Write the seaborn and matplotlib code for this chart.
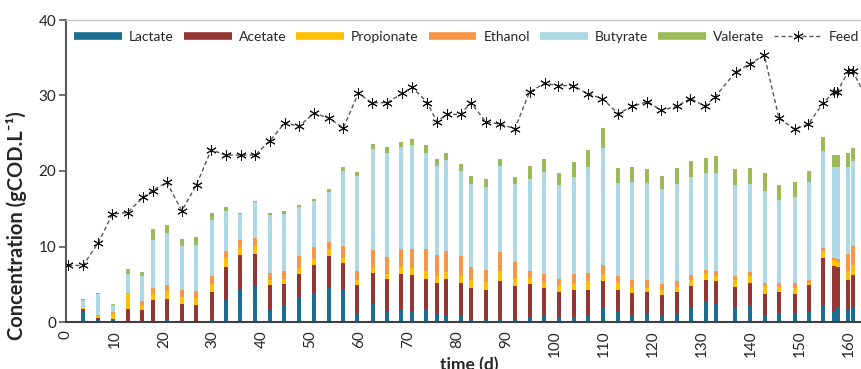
import numpy as np
import pandas as pd
import matplotlib
matplotlib.use("Agg")
import matplotlib.pyplot as plt
from matplotlib.lines import Line2D
import seaborn as sns

# ---------------- data ----------------
days = [3.5, 6.6, 9.7, 12.7, 15.6, 17.7, 20.6, 23.7, 26.6, 29.8,
        32.7, 35.6, 38.7, 41.7, 44.6, 47.7, 50.7, 53.7, 56.7, 59.6,
        62.7, 65.7, 68.6, 70.8, 73.6, 75.8, 77.7, 80.7, 82.8, 85.8,
        88.8, 91.8, 94.8, 97.7, 100.8, 103.9, 106.8, 109.9, 112.8, 115.8,
        118.9, 121.8, 124.9, 127.8, 130.8, 132.9, 136.8, 139.9, 143.0, 145.9,
        149.0, 152.0, 154.9, 157.0, 157.8, 159.9, 161.0]

lactate = [1.3, 0.3, 0.2, 0.0, 0.0, 0.1, 0.45, 0.0, 0.0, 0.45,
           2.95, 4.27, 4.75, 1.55, 2.2, 3.2, 3.9, 4.5, 4.27, 1.1,
           2.35, 1.3, 1.7, 1.45, 1.7, 1.1, 0.97, 0.75, 0.3, 0.3,
           0.4, 0.4, 0.5, 0.97, 0.5, 0.65, 0.97, 1.9, 1.4, 0.75,
           1.1, 0.97, 1.2, 1.9, 2.73, 2.5, 1.85, 2.2, 0.97, 1.2,
           1.1, 1.5, 2.1, 1.5, 2.0, 1.65, 2.0]
acetate = [0.47, 0.25, 0.25, 1.68, 1.55, 2.77, 2.65, 2.35, 2.2, 3.55,
           4.32, 4.63, 4.25, 3.3, 2.8, 3.2, 3.6, 4.2, 3.58, 3.75,
           4.15, 4.35, 4.7, 4.8, 4.0, 4.1, 4.68, 4.45, 4.2, 3.9,
           5.0, 4.35, 4.5, 3.53, 3.5, 3.55, 3.33, 3.5, 2.9, 3.1,
           2.9, 2.63, 2.8, 2.85, 2.87, 2.9, 2.75, 2.95, 2.78, 2.8,
           2.6, 3.35, 6.4, 5.9, 5.27, 3.85, 4.25]
propionate = [0.08, 0.2, 0.65, 2.07, 0.75, 0.88, 0.95, 0.95, 1.0, 1.0,
              1.18, 1.0, 1.1, 0.65, 0.7, 0.7, 0.9, 1.0, 0.65, 0.65,
              0.65, 0.75, 0.85, 0.9, 1.0, 0.95, 0.95, 0.9, 1.0, 1.1,
              1.3, 1.1, 0.85, 0.7, 0.85, 1.0, 1.1, 0.85, 0.85, 0.85,
              0.55, 0.6, 0.6, 0.75, 0.7, 0.75, 0.9, 1.0, 1.0, 0.65,
              0.75, 0.25, 0.9, 0.75, 0.73, 1.25, 1.25]
ethanol = [0.05, 0.15, 0.2, 0.15, 0.43, 0.75, 0.8, 0.9, 0.85, 1.05,
           0.95, 0.9, 1.0, 1.0, 1.1, 1.6, 1.5, 0.95, 1.55, 1.25,
           2.4, 2.2, 2.45, 2.55, 3.0, 2.75, 2.8, 2.6, 1.77, 1.65,
           2.55, 2.05, 0.9, 1.2, 0.85, 1.2, 1.1, 1.25, 0.9, 0.9,
           0.95, 0.85, 0.8, 0.75, 0.65, 0.65, 0.6, 0.45, 0.45, 0.55,
           0.65, 0.5, 0.4, 0.35, 0.4, 2.25, 2.55]
butyrate = [0.97, 2.85, 0.9, 2.5, 3.31, 6.3, 6.9, 5.9, 6.2, 7.5,
            5.35, 3.5, 4.8, 7.7, 7.5, 6.5, 6.1, 6.6, 9.9, 12.65,
            13.35, 13.85, 13.5, 13.8, 12.75, 11.8, 12.05, 11.25, 11.03, 10.9,
            11.35, 10.4, 12.25, 13.5, 12.45, 12.85, 14.0, 15.5, 12.35, 12.9,
            12.9, 12.55, 12.9, 12.9, 12.8, 13.0, 12.05, 11.7, 12.1, 11.0,
            11.5, 12.9, 12.9, 12.0, 12.1, 11.55, 11.25]
valerate = [0.13, 0.1, 0.15, 0.6, 0.56, 1.5, 1.05, 0.9, 0.95, 0.9,
            0.45, 0.1, 0.1, 0.2, 0.45, 0.35, 0.3, 0.35, 0.55, 0.5,
            0.65, 0.75, 0.7, 0.8, 1.05, 0.95, 1.0, 0.95, 1.1, 1.1,
            1.0, 0.85, 1.6, 1.7, 1.65, 1.9, 2.3, 2.75, 1.95, 2.0,
            1.85, 1.8, 2.1, 2.15, 1.95, 2.2, 2.1, 2.1, 2.4, 1.9,
            1.9, 1.45, 1.75, 1.6, 1.6, 1.8, 1.7]

feed_days = [0.5, 3.5, 6.6, 9.5, 12.6, 15.7, 17.7, 20.6, 23.7, 26.7,
             29.7, 32.7, 35.8, 38.7, 41.7, 44.8, 47.6, 50.7, 53.8, 56.7,
             59.8, 62.5, 65.7, 68.8, 70.8, 73.9, 75.8, 77.9, 80.7, 82.8,
             85.8, 88.8, 91.8, 94.8, 97.9, 100.7, 103.7, 106.8, 109.7, 112.9,
             115.8, 118.9, 121.7, 124.9, 127.7, 130.6, 132.7, 137.0, 139.9, 142.8,
             145.8, 149.0, 151.8, 154.9, 157.0, 157.6, 160.0, 160.9, 163.5]
feed = [7.5, 7.5, 10.5, 14.3, 14.5, 16.5, 17.4, 18.5, 14.75, 18.2,
        22.8, 22.1, 22.1, 22.1, 24.0, 26.4, 25.9, 27.65, 27.0, 25.7,
        30.3, 29.05, 29.05, 30.3, 31.1, 29.05, 26.55, 27.5, 27.5, 29.05,
        26.55, 26.2, 25.6, 30.5, 31.6, 31.3, 31.3, 30.2, 29.6, 27.6,
        28.55, 29.2, 28.05, 28.55, 29.6, 28.6, 29.8, 33.15, 34.2, 35.35,
        27.0, 25.55, 26.2, 29.05, 30.4, 30.4, 33.2, 33.2, 29.9]

series_names = ["Lactate", "Acetate", "Propionate", "Ethanol", "Butyrate", "Valerate"]
series_colors = ["#1B6E92", "#943634", "#FFC000", "#F79646", "#ADD8E6", "#9BBB59"]
x_ticks = list(range(0, 161, 10))
y_ticks = [0, 10, 20, 30, 40]

# ---------------- figure ----------------
sns.set_theme(style="white")
plt.rcParams["font.family"] = ["Lato", "DejaVu Sans"]
text_col = "#262626"

W, H = 861, 369
fig = plt.figure(figsize=(W / 100, H / 100), dpi=100)
x0, x1 = 0, 165
ppd = 4.89
ax = fig.add_axes([66 / W, 47 / H, (x1 - x0) * ppd / W, 302 / H])

df = pd.DataFrame({"day": days, "Lactate": lactate, "Acetate": acetate,
                   "Propionate": propionate, "Ethanol": ethanol,
                   "Butyrate": butyrate, "Valerate": valerate})
cum = df[series_names].cumsum(axis=1)

min_gap = np.min(np.diff(np.sort(np.unique(days))))
bar_w = 0.82 / min_gap

for name, col in reversed(list(zip(series_names, series_colors))):
    sns.barplot(x=df["day"], y=cum[name], native_scale=True, color=col,
                saturation=1, width=bar_w, errorbar=None, linewidth=0,
                ax=ax)

feed_style = dict(color="#595959", linewidth=1.0, marker=(6, 2, 0), markersize=7.5,
                  markeredgecolor="#111111", markerfacecolor="#111111",
                  markeredgewidth=0.7)
sns.lineplot(x=feed_days, y=feed, ax=ax, dashes=False, linestyle=(0, (3, 2)),
             zorder=5, **feed_style)

ax.set_xlim(x0, x1)
ax.set_ylim(0, 40)
ax.set_xticks(x_ticks)
ax.set_xticklabels([str(t) for t in x_ticks], rotation=90, fontsize=11, color=text_col)
ax.set_yticks(y_ticks)
ax.set_yticklabels([str(t) for t in y_ticks], fontsize=11, color=text_col)
ax.tick_params(axis="x", direction="inout", length=8, width=1.2, color="#404040", pad=2)
ax.tick_params(axis="y", direction="out", length=5, width=1.2, color="#595959", left=True, pad=2)

for s in ["left", "bottom"]:
    ax.spines[s].set_color("#595959")
    ax.spines[s].set_linewidth(1.5)
ax.spines["bottom"].set_color("#404040")
ax.spines["top"].set_color("#C8C8C8")
ax.spines["top"].set_linewidth(1.0)
ax.spines["right"].set_visible(False)

ax.set_xlabel("time (d)", fontsize=12.5, fontweight="bold", color=text_col, labelpad=0)
ax.set_ylabel("Concentration (gCOD.L\u207b\u00b9)", fontsize=14.5, fontweight="bold",
              color=text_col)
ax.yaxis.set_label_coords(-0.048, 0.32)

handles = [Line2D([0], [0], color=c, lw=5.5, solid_capstyle="butt") for c in series_colors]
handles.append(Line2D([0], [0], ls=(0, (3, 2)), **feed_style))
labels = series_names + ["Feed"]
leg = ax.legend(handles, labels, loc="center left",
                bbox_to_anchor=((74 - 66) / ((x1 - x0) * ppd), (322 - 37) / 302),
                ncol=7, frameon=False, fontsize=10, handlelength=3.45,
                handletextpad=0.5, columnspacing=0.72, borderpad=0, borderaxespad=0,
                numpoints=1)
for t in leg.get_texts():
    t.set_color(text_col)

fig.savefig("out.png", dpi=100)
